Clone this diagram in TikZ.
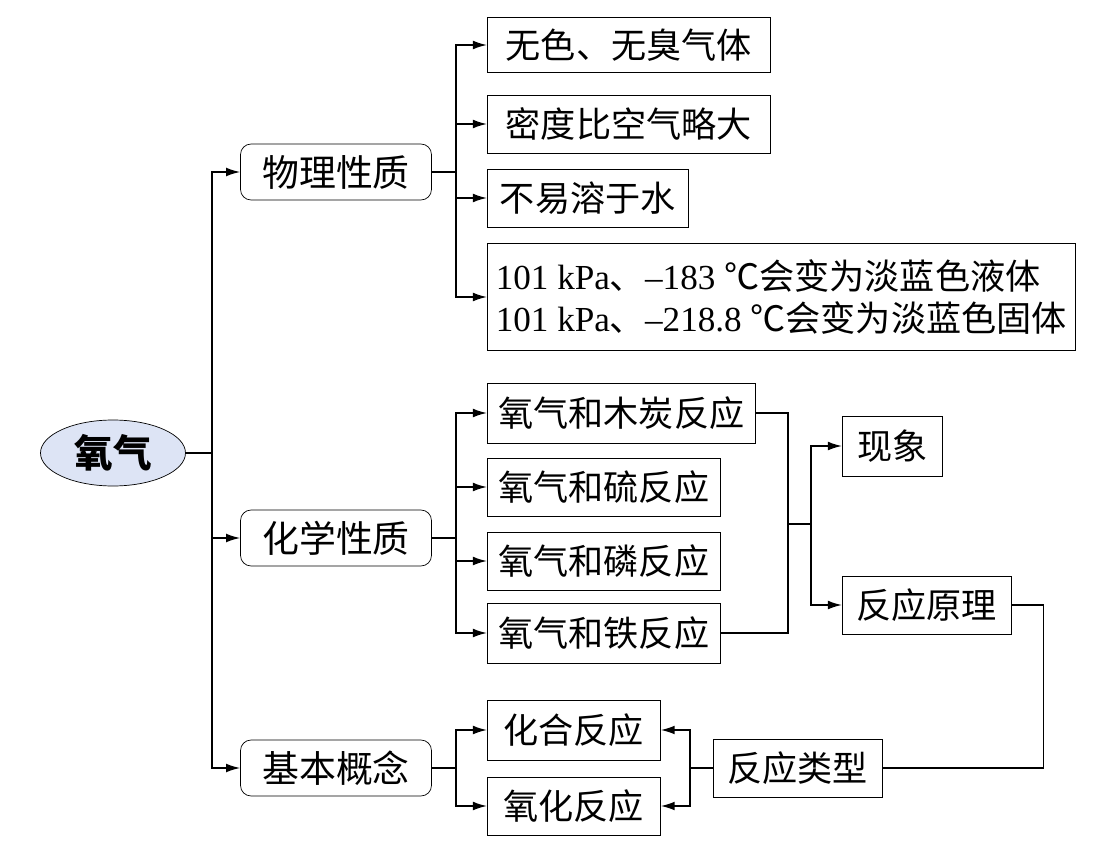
\documentclass[tikz,border=0pt]{standalone}
\usepackage{fontspec}
\usepackage{xcolor}
\usepackage{tikz}
\usetikzlibrary{arrows.meta,shapes.geometric}
\setmainfont{Liberation Serif}
\newfontfamily\cjk{Noto Sans CJK SC}
\definecolor{oxyblue}{RGB}{221,228,245}

\begin{document}
\begin{tikzpicture}[x=0.02cm, y=0.02cm]
		\tikzset{
		  every node/.style={inner sep=0pt, font=\cjk\fontsize{20}{24}\selectfont},
		  topic/.style={draw, rounded corners=6pt, minimum width=3.82cm, minimum height=1.12cm, font=\cjk\fontsize{21}{24}\selectfont},
		  leaf/.style={draw, anchor=west, minimum height=1.16cm},
		  arr/.style={-{Latex[length=8pt,width=5pt]}},
		}
		\useasboundingbox (0,0) rectangle (1102,-851);
		% root
		\node [draw, ellipse, fill=oxyblue, minimum width=2.9cm, minimum height=1.32cm, font=\cjk\bfseries\fontsize{22}{24}\selectfont] (oxy) at (113,-453) {氧气};
		\node [topic] (phys) at (336,-172) {物理性质};
		\node [topic] (chem) at (336,-538) {化学性质};
		\node [topic] (basic) at (336,-768) {基本概念};
		% physical properties
		\node [leaf, minimum width=5.66cm, minimum height=1.1cm] (p1) at (487,-45) {无色、无臭气体};
		\node [leaf, minimum width=5.66cm] (p2) at (487,-124) {密度比空气略大};
		\node [leaf, minimum width=4.02cm] (p3) at (487,-198) {不易溶于水};
		\node [leaf, minimum width=11.76cm, minimum height=2.14cm, align=left, font=\fontsize{20}{24}\selectfont] (p4) at (487,-297)
		  {101 kPa{\cjk 、}–183 {\cjk ℃会变为淡蓝色液体}\\101 kPa{\cjk 、}–218.8 {\cjk ℃会变为淡蓝色固体}};
		% chemical properties
		\node [leaf, minimum width=5.36cm, minimum height=1.2cm] (c1) at (487,-413) {氧气和木炭反应};
		\node [leaf, minimum width=4.66cm] (c2) at (487,-487) {氧气和硫反应};
		\node [leaf, minimum width=4.66cm] (c3) at (487,-561) {氧气和磷反应};
		\node [leaf, minimum width=4.66cm, minimum height=1.2cm] (c4) at (487,-633) {氧气和铁反应};
		\node [leaf, minimum width=2cm, minimum height=1.2cm] (phen) at (842,-446) {现象};
		\node [leaf, minimum width=3.38cm] (prin) at (842,-605) {反应原理};
		% basic concepts
		\node [leaf, minimum width=3.38cm] (type) at (713,-768) {反应类型};
		\node [leaf, minimum width=3.46cm, minimum height=1.2cm] (comb) at (487,-730) {化合反应};
		\node [leaf, minimum width=3.46cm] (oxid) at (487,-806) {氧化反应};
		% junctions
		\coordinate (t0) at (212,-453);
		\coordinate (pj) at (456,-172);
		\coordinate (cj) at (456,-538);
		\coordinate (bj) at (456,-768);
		\coordinate (m1) at (788,-524);
		\coordinate (m2) at (811,-524);
		\coordinate (tj) at (690,-768);
		\begin{scope}[line width=0.9pt]
		\draw (oxy.east) -- (t0);
		\draw [arr] (t0) |- (phys.west);
		\draw [arr] (t0) |- (chem.west);
		\draw [arr] (t0) |- (basic.west);
		\draw (phys.east) -- (pj);
		\foreach \n in {p1,p2,p3,p4}
		  \draw [arr] (pj) |- (\n.west);
		\draw (chem.east) -- (cj);
		\foreach \n in {c1,c2,c3,c4}
		  \draw [arr] (cj) |- (\n.west);
		\draw (c1.east) -| (m1);
		\draw (c4.east) -| (m1);
		\draw (m1) -- (m2);
		\draw [arr] (m2) |- (phen.west);
		\draw [arr] (m2) |- (prin.west);
		\draw (prin.east) -- ++(32,0) |- (type.east);
		\draw (type.west) -- (tj);
		\draw [arr] (tj) |- (comb.east);
		\draw [arr] (tj) |- (oxid.east);
		\draw (basic.east) -- (bj);
		\draw [arr] (bj) |- (comb.west);
		\draw [arr] (bj) |- (oxid.west);
		\end{scope}
\end{tikzpicture}
\end{document}
